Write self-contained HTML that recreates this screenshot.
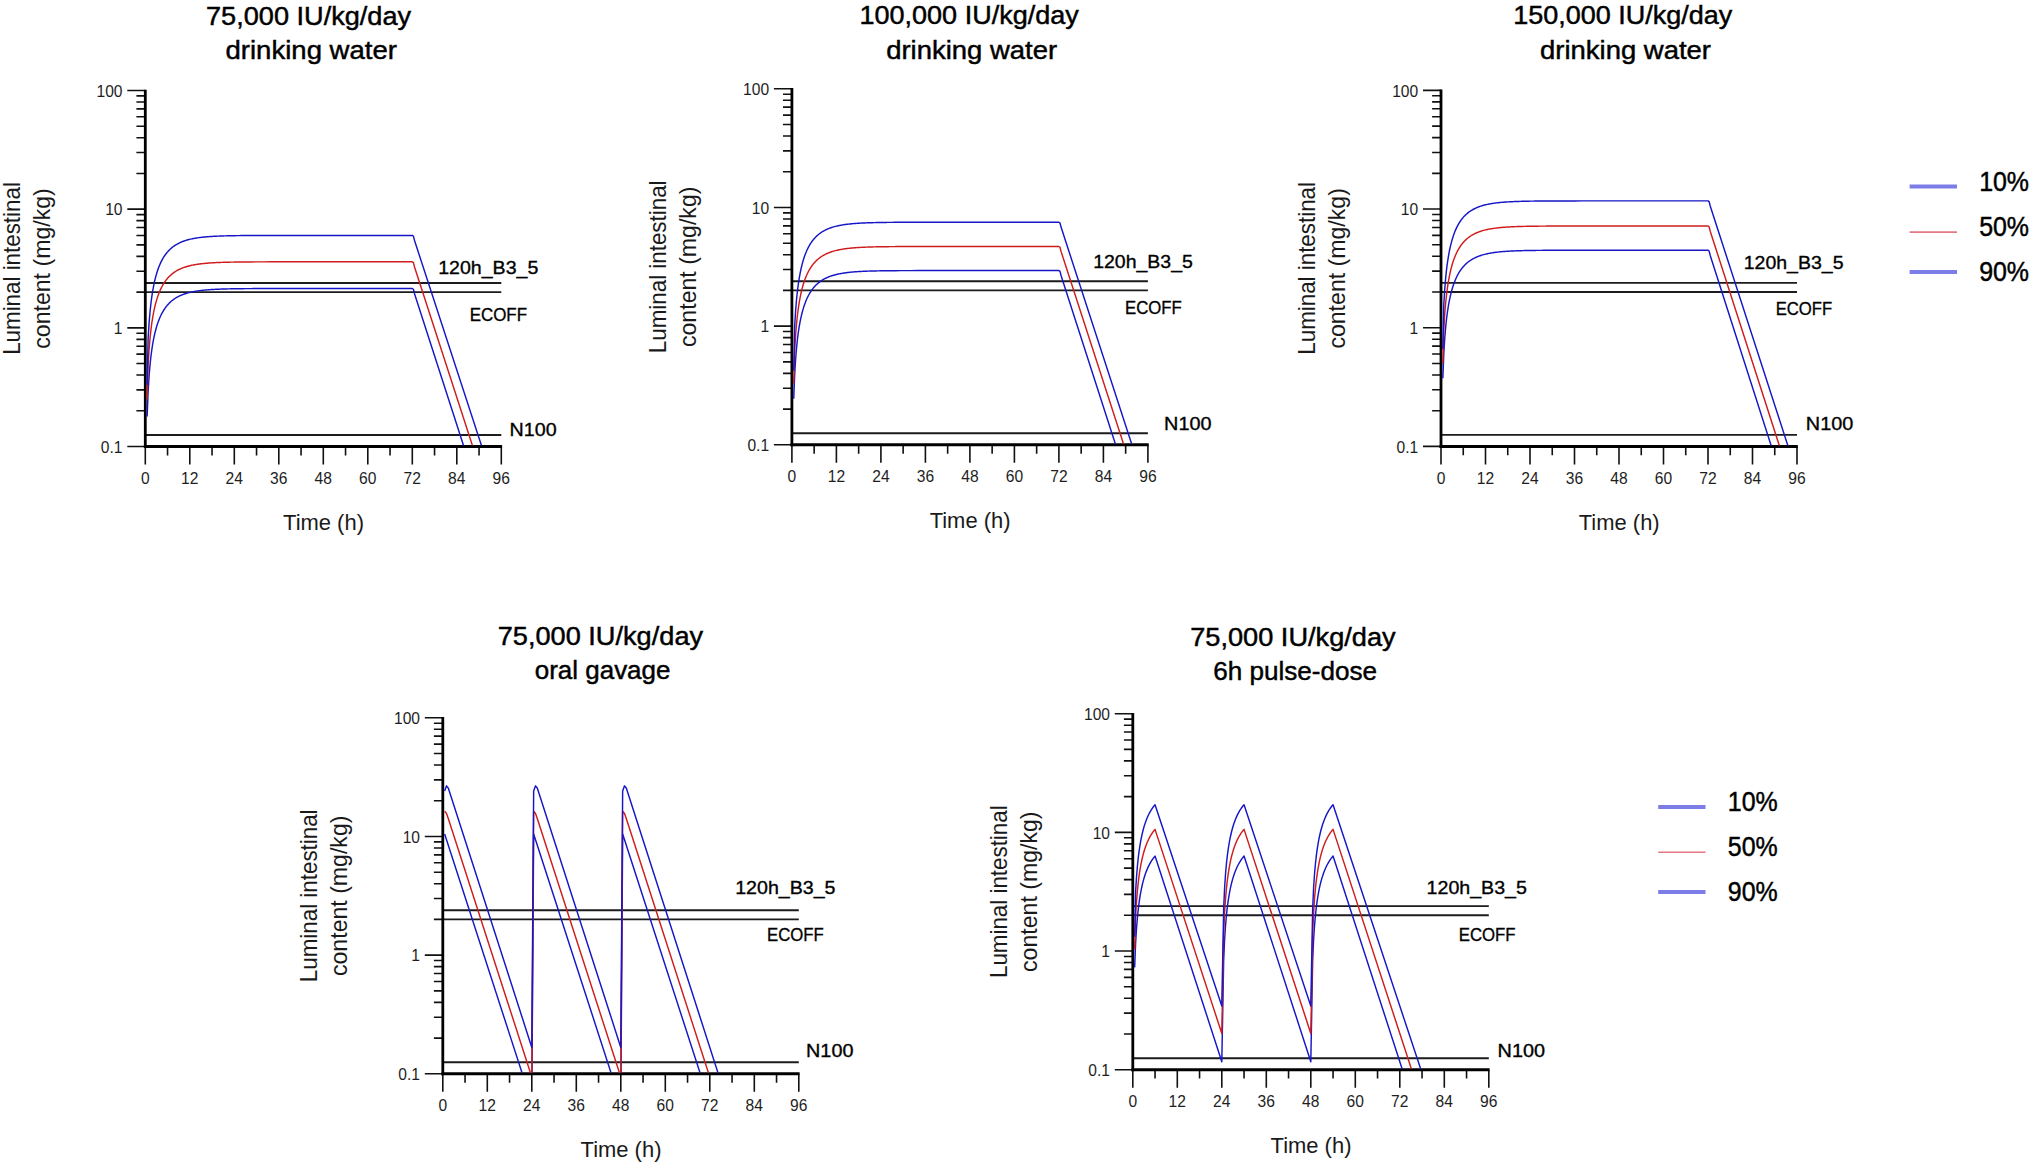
<!DOCTYPE html>
<html lang="en"><head><meta charset="utf-8"><title>Luminal intestinal content simulations</title>
<style>html,body{margin:0;padding:0;background:#fff}body{width:2034px;height:1167px;overflow:hidden}svg{display:block}text{white-space:pre}</style>
</head><body>
<svg width="2034" height="1167" viewBox="0 0 2034 1167" font-family='"Liberation Sans", Arial, Helvetica, sans-serif'>
<rect width="2034" height="1167" fill="#fff"/>
<defs><clipPath id="cp0"><rect x="145.3" y="85.49" width="370" height="360.01"/></clipPath><clipPath id="cp1"><rect x="791.9" y="83.79" width="370" height="360.01"/></clipPath><clipPath id="cp2"><rect x="1441" y="85.39" width="370" height="360.01"/></clipPath><clipPath id="cp3"><rect x="442.8" y="712.79" width="370" height="360.01"/></clipPath><clipPath id="cp4"><rect x="1132.8" y="708.69" width="370" height="360.01"/></clipPath></defs>
<g id="chart1">
<path d="M145.3 282.93H501.3M145.3 292.11H501.3M145.3 435H501.3" stroke="#1c1c1c" stroke-width="1.9" fill="none"/>
<path d="M127.3 446.5H145.3M136.4 410.78H145.3M136.4 389.88H145.3M136.4 375.05H145.3M136.4 363.55H145.3M136.4 354.16H145.3M136.4 346.21H145.3M136.4 339.33H145.3M136.4 333.26H145.3M127.3 327.83H145.3M136.4 292.11H145.3M136.4 271.21H145.3M136.4 256.38H145.3M136.4 244.88H145.3M136.4 235.49H145.3M136.4 227.54H145.3M136.4 220.66H145.3M136.4 214.59H145.3M127.3 209.16H145.3M136.4 173.44H145.3M136.4 152.54H145.3M136.4 137.71H145.3M136.4 126.21H145.3M136.4 116.82H145.3M136.4 108.87H145.3M136.4 101.99H145.3M136.4 95.92H145.3M127.3 90.49H145.3M145.3 446.5V464.5M167.55 446.5V455.4M189.8 446.5V464.5M212.05 446.5V455.4M234.3 446.5V464.5M256.55 446.5V455.4M278.8 446.5V464.5M301.05 446.5V455.4M323.3 446.5V464.5M345.55 446.5V455.4M367.8 446.5V464.5M390.05 446.5V455.4M412.3 446.5V464.5M434.55 446.5V455.4M456.8 446.5V464.5M479.05 446.5V455.4M501.3 446.5V464.5" stroke="#111" stroke-width="1.6" fill="none"/>
<path d="M145.3 89.69V448" stroke="#000" stroke-width="2.8" fill="none"/>
<path d="M143.9 446.5H502.1" stroke="#000" stroke-width="3" fill="none"/>
<path d="M147.15 416.58L148.08 392.49L149.01 377.09L149.94 365.82L150.86 357.03L151.79 349.89L152.72 343.95L153.64 338.88L154.57 334.51L155.5 330.69L156.43 327.31L157.35 324.31L158.28 321.62L159.21 319.2L160.13 317.01L161.06 315.01L161.99 313.19L162.91 311.53L163.84 310L164.77 308.6L165.7 307.3L166.62 306.1L167.55 304.99L168.48 303.97L169.4 303.01L170.33 302.12L171.26 301.3L172.19 300.53L173.11 299.81L174.04 299.14L174.97 298.51L175.89 297.93L176.82 297.38L177.75 296.86L178.68 296.38L179.6 295.93L180.53 295.5L181.46 295.1L182.38 294.73L183.31 294.38L184.24 294.04L185.16 293.73L186.09 293.44L187.02 293.16L187.95 292.9L188.87 292.66L189.8 292.43L190.73 292.21L191.65 292.01L192.58 291.81L193.51 291.63L194.44 291.46L195.36 291.3L196.29 291.14L197.22 291L198.14 290.86L199.07 290.73L200 290.61L200.93 290.5L201.85 290.39L202.78 290.28L203.71 290.19L204.63 290.1L205.56 290.01L206.49 289.93L207.41 289.85L208.34 289.78L209.27 289.71L210.2 289.64L211.12 289.58L212.05 289.52L212.98 289.47L213.9 289.42L214.83 289.37L215.76 289.32L216.69 289.28L217.61 289.23L218.54 289.19L219.47 289.16L220.39 289.12L221.32 289.09L222.25 289.06L223.18 289.03L224.1 289L225.03 288.97L225.96 288.95L226.88 288.92L227.81 288.9L228.74 288.88L229.66 288.86L230.59 288.84L231.52 288.82L232.45 288.8L233.37 288.79L234.3 288.77L235.23 288.76L236.15 288.74L237.08 288.73L238.01 288.72L238.94 288.71L239.86 288.7L240.79 288.68L241.72 288.67L242.64 288.67L243.57 288.66L244.5 288.65L245.43 288.64L246.35 288.63L247.28 288.63L248.21 288.62L249.13 288.61L250.06 288.61L250.99 288.6L251.91 288.6L252.84 288.59L253.77 288.59L254.7 288.58L255.62 288.58L256.55 288.57L263.97 288.55L271.38 288.53L278.8 288.52L286.22 288.51L293.63 288.51L301.05 288.5L308.47 288.5L315.88 288.5L323.3 288.5L330.72 288.5L338.13 288.5L345.55 288.5L352.97 288.5L360.38 288.5L367.8 288.5L375.22 288.5L382.63 288.5L390.05 288.5L397.47 288.5L404.88 288.5L412.3 288.5L413.41 289.28L414.52 293.67L467.55 457.99" stroke="#1616c8" stroke-width="1.45" fill="none" stroke-linejoin="round" clip-path="url(#cp0)"/>
<path d="M147.15 398.66L148.08 365.8L149.01 350.4L149.94 339.13L150.86 330.34L151.79 323.21L152.72 317.26L153.64 312.2L154.57 307.83L155.5 304L156.43 300.63L157.35 297.63L158.28 294.94L159.21 292.51L160.13 290.32L161.06 288.33L161.99 286.51L162.91 284.84L163.84 283.32L164.77 281.91L165.7 280.61L166.62 279.42L167.55 278.31L168.48 277.28L169.4 276.33L170.33 275.44L171.26 274.61L172.19 273.84L173.11 273.12L174.04 272.45L174.97 271.83L175.89 271.24L176.82 270.69L177.75 270.18L178.68 269.69L179.6 269.24L180.53 268.82L181.46 268.42L182.38 268.04L183.31 267.69L184.24 267.36L185.16 267.05L186.09 266.75L187.02 266.48L187.95 266.22L188.87 265.97L189.8 265.74L190.73 265.52L191.65 265.32L192.58 265.13L193.51 264.94L194.44 264.77L195.36 264.61L196.29 264.46L197.22 264.31L198.14 264.17L199.07 264.05L200 263.92L200.93 263.81L201.85 263.7L202.78 263.6L203.71 263.5L204.63 263.41L205.56 263.32L206.49 263.24L207.41 263.16L208.34 263.09L209.27 263.02L210.2 262.96L211.12 262.9L212.05 262.84L212.98 262.78L213.9 262.73L214.83 262.68L215.76 262.63L216.69 262.59L217.61 262.55L218.54 262.51L219.47 262.47L220.39 262.44L221.32 262.4L222.25 262.37L223.18 262.34L224.1 262.31L225.03 262.29L225.96 262.26L226.88 262.24L227.81 262.21L228.74 262.19L229.66 262.17L230.59 262.15L231.52 262.13L232.45 262.12L233.37 262.1L234.3 262.09L235.23 262.07L236.15 262.06L237.08 262.04L238.01 262.03L238.94 262.02L239.86 262.01L240.79 262L241.72 261.99L242.64 261.98L243.57 261.97L244.5 261.96L245.43 261.95L246.35 261.95L247.28 261.94L248.21 261.93L249.13 261.93L250.06 261.92L250.99 261.91L251.91 261.91L252.84 261.9L253.77 261.9L254.7 261.89L255.62 261.89L256.55 261.89L263.97 261.86L271.38 261.84L278.8 261.83L286.22 261.83L293.63 261.82L301.05 261.82L308.47 261.82L315.88 261.82L323.3 261.81L330.72 261.81L338.13 261.81L345.55 261.81L352.97 261.81L360.38 261.81L367.8 261.81L375.22 261.81L382.63 261.81L390.05 261.81L397.47 261.81L404.88 261.81L412.3 261.81L413.41 262.59L414.52 266.96L476.45 457.94" stroke="#d01c1c" stroke-width="1.45" fill="none" stroke-linejoin="round" clip-path="url(#cp0)"/>
<path d="M147.15 384.97L148.08 339.39L149.01 323.99L149.94 312.72L150.86 303.93L151.79 296.8L152.72 290.85L153.64 285.79L154.57 281.41L155.5 277.59L156.43 274.22L157.35 271.21L158.28 268.52L159.21 266.1L160.13 263.91L161.06 261.91L161.99 260.09L162.91 258.43L163.84 256.9L164.77 255.5L165.7 254.2L166.62 253L167.55 251.9L168.48 250.87L169.4 249.91L170.33 249.03L171.26 248.2L172.19 247.43L173.11 246.71L174.04 246.04L174.97 245.41L175.89 244.83L176.82 244.28L177.75 243.76L178.68 243.28L179.6 242.83L180.53 242.4L181.46 242L182.38 241.63L183.31 241.28L184.24 240.95L185.16 240.63L186.09 240.34L187.02 240.06L187.95 239.8L188.87 239.56L189.8 239.33L190.73 239.11L191.65 238.91L192.58 238.71L193.51 238.53L194.44 238.36L195.36 238.2L196.29 238.04L197.22 237.9L198.14 237.76L199.07 237.63L200 237.51L200.93 237.4L201.85 237.29L202.78 237.19L203.71 237.09L204.63 237L205.56 236.91L206.49 236.83L207.41 236.75L208.34 236.68L209.27 236.61L210.2 236.54L211.12 236.48L212.05 236.42L212.98 236.37L213.9 236.32L214.83 236.27L215.76 236.22L216.69 236.18L217.61 236.14L218.54 236.1L219.47 236.06L220.39 236.02L221.32 235.99L222.25 235.96L223.18 235.93L224.1 235.9L225.03 235.87L225.96 235.85L226.88 235.82L227.81 235.8L228.74 235.78L229.66 235.76L230.59 235.74L231.52 235.72L232.45 235.7L233.37 235.69L234.3 235.67L235.23 235.66L236.15 235.64L237.08 235.63L238.01 235.62L238.94 235.61L239.86 235.6L240.79 235.59L241.72 235.58L242.64 235.57L243.57 235.56L244.5 235.55L245.43 235.54L246.35 235.53L247.28 235.53L248.21 235.52L249.13 235.51L250.06 235.51L250.99 235.5L251.91 235.5L252.84 235.49L253.77 235.49L254.7 235.48L255.62 235.48L256.55 235.47L263.97 235.45L271.38 235.43L278.8 235.42L286.22 235.41L293.63 235.41L301.05 235.41L308.47 235.4L315.88 235.4L323.3 235.4L330.72 235.4L338.13 235.4L345.55 235.4L352.97 235.4L360.38 235.4L367.8 235.4L375.22 235.4L382.63 235.4L390.05 235.4L397.47 235.4L404.88 235.4L412.3 235.4L413.41 236.18L414.52 240.51L485.5 457.86" stroke="#1616c8" stroke-width="1.45" fill="none" stroke-linejoin="round" clip-path="url(#cp0)"/>
<g fill="#1e1e1e"><text x="122.5" y="96.69" font-size="15.6" text-anchor="end">100</text><text x="122.5" y="215.36" font-size="15.6" text-anchor="end">10</text><text x="122.5" y="334.03" font-size="15.6" text-anchor="end">1</text><text x="122.5" y="452.7" font-size="15.6" text-anchor="end">0.1</text><text x="145.3" y="484.1" font-size="15.6" text-anchor="middle">0</text><text x="189.8" y="484.1" font-size="15.6" text-anchor="middle">12</text><text x="234.3" y="484.1" font-size="15.6" text-anchor="middle">24</text><text x="278.8" y="484.1" font-size="15.6" text-anchor="middle">36</text><text x="323.3" y="484.1" font-size="15.6" text-anchor="middle">48</text><text x="367.8" y="484.1" font-size="15.6" text-anchor="middle">60</text><text x="412.3" y="484.1" font-size="15.6" text-anchor="middle">72</text><text x="456.8" y="484.1" font-size="15.6" text-anchor="middle">84</text><text x="501.3" y="484.1" font-size="15.6" text-anchor="middle">96</text></g>
<text x="323.5" y="529.8" font-size="22.4" text-anchor="middle" textLength="80.9" lengthAdjust="spacingAndGlyphs" fill="#1a1a1a">Time (h)</text>
<g fill="#1a1a1a" transform="translate(19.7 268.5) rotate(-90)"><text x="0" y="0" font-size="23.4" text-anchor="middle" textLength="172.69" lengthAdjust="spacingAndGlyphs">Luminal intestinal</text><text x="0" y="30" font-size="23.4" text-anchor="middle" textLength="160.49" lengthAdjust="spacingAndGlyphs">content (mg/kg)</text></g>
<g fill="#000" stroke="#000" stroke-width="0.45"><text x="206" y="24.6" font-size="25.8" textLength="205.09" lengthAdjust="spacingAndGlyphs">75,000 IU/kg/day</text><text x="225.5" y="58.6" font-size="25.8" textLength="171.49" lengthAdjust="spacingAndGlyphs">drinking water</text></g>
<g fill="#000" stroke="#000" stroke-width="0.35"><text x="438.19" y="273.9" font-size="19" textLength="100.11" lengthAdjust="spacingAndGlyphs">120h_B3_5</text><text x="469.69" y="320.5" font-size="19" textLength="57.32" lengthAdjust="spacingAndGlyphs">ECOFF</text><text x="509.59" y="436.2" font-size="19" textLength="47.01" lengthAdjust="spacingAndGlyphs">N100</text></g>
</g>
<g id="chart2">
<path d="M791.9 281.23H1147.9M791.9 290.41H1147.9M791.9 433.3H1147.9" stroke="#1c1c1c" stroke-width="1.9" fill="none"/>
<path d="M773.9 444.8H791.9M783 409.08H791.9M783 388.18H791.9M783 373.35H791.9M783 361.85H791.9M783 352.46H791.9M783 344.51H791.9M783 337.63H791.9M783 331.56H791.9M773.9 326.13H791.9M783 290.41H791.9M783 269.51H791.9M783 254.68H791.9M783 243.18H791.9M783 233.79H791.9M783 225.84H791.9M783 218.96H791.9M783 212.89H791.9M773.9 207.46H791.9M783 171.74H791.9M783 150.84H791.9M783 136.01H791.9M783 124.51H791.9M783 115.12H791.9M783 107.17H791.9M783 100.29H791.9M783 94.22H791.9M773.9 88.79H791.9M791.9 444.8V462.8M814.15 444.8V453.7M836.4 444.8V462.8M858.65 444.8V453.7M880.9 444.8V462.8M903.15 444.8V453.7M925.4 444.8V462.8M947.65 444.8V453.7M969.9 444.8V462.8M992.15 444.8V453.7M1014.4 444.8V462.8M1036.65 444.8V453.7M1058.9 444.8V462.8M1081.15 444.8V453.7M1103.4 444.8V462.8M1125.65 444.8V453.7M1147.9 444.8V462.8" stroke="#111" stroke-width="1.6" fill="none"/>
<path d="M791.9 87.99V446.3" stroke="#000" stroke-width="2.8" fill="none"/>
<path d="M790.5 444.8H1148.7" stroke="#000" stroke-width="3" fill="none"/>
<path d="M793.75 398.62L794.68 374.54L795.61 359.14L796.54 347.87L797.46 339.08L798.39 331.95L799.32 326L800.24 320.94L801.17 316.56L802.1 312.74L803.02 309.37L803.95 306.36L804.88 303.67L805.81 301.25L806.73 299.06L807.66 297.06L808.59 295.24L809.51 293.58L810.44 292.05L811.37 290.65L812.3 289.35L813.22 288.15L814.15 287.05L815.08 286.02L816 285.06L816.93 284.18L817.86 283.35L818.79 282.58L819.71 281.86L820.64 281.19L821.57 280.56L822.49 279.98L823.42 279.43L824.35 278.91L825.27 278.43L826.2 277.98L827.13 277.55L828.06 277.15L828.98 276.78L829.91 276.43L830.84 276.1L831.76 275.78L832.69 275.49L833.62 275.21L834.55 274.95L835.47 274.71L836.4 274.48L837.33 274.26L838.25 274.06L839.18 273.86L840.11 273.68L841.04 273.51L841.96 273.35L842.89 273.19L843.82 273.05L844.74 272.91L845.67 272.78L846.6 272.66L847.52 272.55L848.45 272.44L849.38 272.34L850.31 272.24L851.23 272.15L852.16 272.06L853.09 271.98L854.01 271.9L854.94 271.83L855.87 271.76L856.8 271.69L857.72 271.63L858.65 271.57L859.58 271.52L860.5 271.47L861.43 271.42L862.36 271.37L863.29 271.33L864.21 271.29L865.14 271.25L866.07 271.21L866.99 271.17L867.92 271.14L868.85 271.11L869.77 271.08L870.7 271.05L871.63 271.02L872.56 271L873.48 270.97L874.41 270.95L875.34 270.93L876.26 270.91L877.19 270.89L878.12 270.87L879.05 270.86L879.97 270.84L880.9 270.82L881.83 270.81L882.75 270.8L883.68 270.78L884.61 270.77L885.54 270.76L886.46 270.75L887.39 270.74L888.32 270.73L889.24 270.72L890.17 270.71L891.1 270.7L892.02 270.69L892.95 270.68L893.88 270.68L894.81 270.67L895.73 270.66L896.66 270.66L897.59 270.65L898.51 270.65L899.44 270.64L900.37 270.64L901.3 270.63L902.22 270.63L903.15 270.62L910.57 270.6L917.98 270.58L925.4 270.57L932.82 270.56L940.23 270.56L947.65 270.56L955.07 270.55L962.48 270.55L969.9 270.55L977.32 270.55L984.73 270.55L992.15 270.55L999.57 270.55L1006.98 270.55L1014.4 270.55L1021.82 270.55L1029.23 270.55L1036.65 270.55L1044.07 270.55L1051.48 270.55L1058.9 270.55L1060.01 271.33L1061.12 275.73L1119.35 456.3" stroke="#1616c8" stroke-width="1.45" fill="none" stroke-linejoin="round" clip-path="url(#cp1)"/>
<path d="M793.75 383.27L794.68 350.47L795.61 335.07L796.54 323.8L797.46 315.01L798.39 307.88L799.32 301.93L800.24 296.87L801.17 292.49L802.1 288.67L803.02 285.3L803.95 282.29L804.88 279.6L805.81 277.18L806.73 274.99L807.66 272.99L808.59 271.18L809.51 269.51L810.44 267.98L811.37 266.58L812.3 265.28L813.22 264.08L814.15 262.98L815.08 261.95L816 260.99L816.93 260.11L817.86 259.28L818.79 258.51L819.71 257.79L820.64 257.12L821.57 256.49L822.49 255.91L823.42 255.36L824.35 254.84L825.27 254.36L826.2 253.91L827.13 253.48L828.06 253.08L828.98 252.71L829.91 252.36L830.84 252.03L831.76 251.71L832.69 251.42L833.62 251.15L834.55 250.89L835.47 250.64L836.4 250.41L837.33 250.19L838.25 249.99L839.18 249.79L840.11 249.61L841.04 249.44L841.96 249.28L842.89 249.12L843.82 248.98L844.74 248.84L845.67 248.71L846.6 248.59L847.52 248.48L848.45 248.37L849.38 248.27L850.31 248.17L851.23 248.08L852.16 247.99L853.09 247.91L854.01 247.83L854.94 247.76L855.87 247.69L856.8 247.63L857.72 247.56L858.65 247.51L859.58 247.45L860.5 247.4L861.43 247.35L862.36 247.3L863.29 247.26L864.21 247.22L865.14 247.18L866.07 247.14L866.99 247.1L867.92 247.07L868.85 247.04L869.77 247.01L870.7 246.98L871.63 246.95L872.56 246.93L873.48 246.9L874.41 246.88L875.34 246.86L876.26 246.84L877.19 246.82L878.12 246.8L879.05 246.79L879.97 246.77L880.9 246.75L881.83 246.74L882.75 246.73L883.68 246.71L884.61 246.7L885.54 246.69L886.46 246.68L887.39 246.67L888.32 246.66L889.24 246.65L890.17 246.64L891.1 246.63L892.02 246.62L892.95 246.62L893.88 246.61L894.81 246.6L895.73 246.59L896.66 246.59L897.59 246.58L898.51 246.58L899.44 246.57L900.37 246.57L901.3 246.56L902.22 246.56L903.15 246.55L910.57 246.53L917.98 246.51L925.4 246.5L932.82 246.49L940.23 246.49L947.65 246.49L955.07 246.49L962.48 246.48L969.9 246.48L977.32 246.48L984.73 246.48L992.15 246.48L999.57 246.48L1006.98 246.48L1014.4 246.48L1021.82 246.48L1029.23 246.48L1036.65 246.48L1044.07 246.48L1051.48 246.48L1058.9 246.48L1060.01 247.26L1061.12 251.63L1127.5 456.23" stroke="#d01c1c" stroke-width="1.45" fill="none" stroke-linejoin="round" clip-path="url(#cp1)"/>
<path d="M793.75 370.84L794.68 326.2L795.61 310.81L796.54 299.53L797.46 290.74L798.39 283.61L799.32 277.66L800.24 272.6L801.17 268.23L802.1 264.41L803.02 261.03L803.95 258.03L804.88 255.34L805.81 252.92L806.73 250.72L807.66 248.73L808.59 246.91L809.51 245.25L810.44 243.72L811.37 242.31L812.3 241.02L813.22 239.82L814.15 238.71L815.08 237.68L816 236.73L816.93 235.84L817.86 235.02L818.79 234.25L819.71 233.53L820.64 232.86L821.57 232.23L822.49 231.64L823.42 231.09L824.35 230.58L825.27 230.1L826.2 229.64L827.13 229.22L828.06 228.82L828.98 228.45L829.91 228.09L830.84 227.76L831.76 227.45L832.69 227.16L833.62 226.88L834.55 226.62L835.47 226.38L836.4 226.15L837.33 225.93L838.25 225.72L839.18 225.53L840.11 225.35L841.04 225.18L841.96 225.01L842.89 224.86L843.82 224.72L844.74 224.58L845.67 224.45L846.6 224.33L847.52 224.21L848.45 224.11L849.38 224L850.31 223.91L851.23 223.81L852.16 223.73L853.09 223.65L854.01 223.57L854.94 223.5L855.87 223.43L856.8 223.36L857.72 223.3L858.65 223.24L859.58 223.19L860.5 223.13L861.43 223.08L862.36 223.04L863.29 222.99L864.21 222.95L865.14 222.91L866.07 222.88L866.99 222.84L867.92 222.81L868.85 222.77L869.77 222.75L870.7 222.72L871.63 222.69L872.56 222.66L873.48 222.64L874.41 222.62L875.34 222.6L876.26 222.58L877.19 222.56L878.12 222.54L879.05 222.52L879.97 222.51L880.9 222.49L881.83 222.48L882.75 222.46L883.68 222.45L884.61 222.44L885.54 222.42L886.46 222.41L887.39 222.4L888.32 222.39L889.24 222.38L890.17 222.37L891.1 222.37L892.02 222.36L892.95 222.35L893.88 222.34L894.81 222.34L895.73 222.33L896.66 222.32L897.59 222.32L898.51 222.31L899.44 222.31L900.37 222.3L901.3 222.3L902.22 222.29L903.15 222.29L910.57 222.26L917.98 222.25L925.4 222.24L932.82 222.23L940.23 222.23L947.65 222.22L955.07 222.22L962.48 222.22L969.9 222.22L977.32 222.22L984.73 222.22L992.15 222.22L999.57 222.22L1006.98 222.22L1014.4 222.22L1021.82 222.22L1029.23 222.22L1036.65 222.22L1044.07 222.22L1051.48 222.22L1058.9 222.22L1060.01 223L1061.12 227.34L1135.66 456.19" stroke="#1616c8" stroke-width="1.45" fill="none" stroke-linejoin="round" clip-path="url(#cp1)"/>
<g fill="#1e1e1e"><text x="769.1" y="94.99" font-size="15.6" text-anchor="end">100</text><text x="769.1" y="213.66" font-size="15.6" text-anchor="end">10</text><text x="769.1" y="332.33" font-size="15.6" text-anchor="end">1</text><text x="769.1" y="451" font-size="15.6" text-anchor="end">0.1</text><text x="791.9" y="482.4" font-size="15.6" text-anchor="middle">0</text><text x="836.4" y="482.4" font-size="15.6" text-anchor="middle">12</text><text x="880.9" y="482.4" font-size="15.6" text-anchor="middle">24</text><text x="925.4" y="482.4" font-size="15.6" text-anchor="middle">36</text><text x="969.9" y="482.4" font-size="15.6" text-anchor="middle">48</text><text x="1014.4" y="482.4" font-size="15.6" text-anchor="middle">60</text><text x="1058.9" y="482.4" font-size="15.6" text-anchor="middle">72</text><text x="1103.4" y="482.4" font-size="15.6" text-anchor="middle">84</text><text x="1147.9" y="482.4" font-size="15.6" text-anchor="middle">96</text></g>
<text x="970.1" y="528.1" font-size="22.4" text-anchor="middle" textLength="80.9" lengthAdjust="spacingAndGlyphs" fill="#1a1a1a">Time (h)</text>
<g fill="#1a1a1a" transform="translate(666.3 266.8) rotate(-90)"><text x="0" y="0" font-size="23.4" text-anchor="middle" textLength="172.69" lengthAdjust="spacingAndGlyphs">Luminal intestinal</text><text x="0" y="30" font-size="23.4" text-anchor="middle" textLength="160.49" lengthAdjust="spacingAndGlyphs">content (mg/kg)</text></g>
<g fill="#000" stroke="#000" stroke-width="0.45"><text x="859.4" y="24.4" font-size="25.8" textLength="219.49" lengthAdjust="spacingAndGlyphs">100,000 IU/kg/day</text><text x="886.2" y="59" font-size="25.8" textLength="170.89" lengthAdjust="spacingAndGlyphs">drinking water</text></g>
<g fill="#000" stroke="#000" stroke-width="0.35"><text x="1093.19" y="267.8" font-size="19" textLength="99.61" lengthAdjust="spacingAndGlyphs">120h_B3_5</text><text x="1125.09" y="314.4" font-size="19" textLength="56.71" lengthAdjust="spacingAndGlyphs">ECOFF</text><text x="1164.09" y="430.4" font-size="19" textLength="47.41" lengthAdjust="spacingAndGlyphs">N100</text></g>
</g>
<g id="chart3">
<path d="M1441 282.83H1797M1441 292.01H1797M1441 434.9H1797" stroke="#1c1c1c" stroke-width="1.9" fill="none"/>
<path d="M1423 446.4H1441M1432.1 410.68H1441M1432.1 389.78H1441M1432.1 374.95H1441M1432.1 363.45H1441M1432.1 354.06H1441M1432.1 346.11H1441M1432.1 339.23H1441M1432.1 333.16H1441M1423 327.73H1441M1432.1 292.01H1441M1432.1 271.11H1441M1432.1 256.28H1441M1432.1 244.78H1441M1432.1 235.39H1441M1432.1 227.44H1441M1432.1 220.56H1441M1432.1 214.49H1441M1423 209.06H1441M1432.1 173.34H1441M1432.1 152.44H1441M1432.1 137.61H1441M1432.1 126.11H1441M1432.1 116.72H1441M1432.1 108.77H1441M1432.1 101.89H1441M1432.1 95.82H1441M1423 90.39H1441M1441 446.4V464.4M1463.25 446.4V455.3M1485.5 446.4V464.4M1507.75 446.4V455.3M1530 446.4V464.4M1552.25 446.4V455.3M1574.5 446.4V464.4M1596.75 446.4V455.3M1619 446.4V464.4M1641.25 446.4V455.3M1663.5 446.4V464.4M1685.75 446.4V455.3M1708 446.4V464.4M1730.25 446.4V455.3M1752.5 446.4V464.4M1774.75 446.4V455.3M1797 446.4V464.4" stroke="#111" stroke-width="1.6" fill="none"/>
<path d="M1441 89.59V447.9" stroke="#000" stroke-width="2.8" fill="none"/>
<path d="M1439.6 446.4H1797.8" stroke="#000" stroke-width="3" fill="none"/>
<path d="M1442.85 378.28L1443.78 354.2L1444.71 338.8L1445.64 327.53L1446.56 318.74L1447.49 311.61L1448.42 305.66L1449.34 300.6L1450.27 296.23L1451.2 292.4L1452.12 289.03L1453.05 286.03L1453.98 283.34L1454.91 280.91L1455.83 278.72L1456.76 276.73L1457.69 274.91L1458.61 273.24L1459.54 271.71L1460.47 270.31L1461.4 269.01L1462.32 267.82L1463.25 266.71L1464.18 265.68L1465.1 264.73L1466.03 263.84L1466.96 263.01L1467.89 262.24L1468.81 261.52L1469.74 260.85L1470.67 260.23L1471.59 259.64L1472.52 259.09L1473.45 258.57L1474.38 258.09L1475.3 257.64L1476.23 257.22L1477.16 256.82L1478.08 256.44L1479.01 256.09L1479.94 255.76L1480.86 255.45L1481.79 255.15L1482.72 254.88L1483.65 254.62L1484.57 254.37L1485.5 254.14L1486.43 253.92L1487.35 253.72L1488.28 253.53L1489.21 253.34L1490.14 253.17L1491.06 253.01L1491.99 252.86L1492.92 252.71L1493.84 252.57L1494.77 252.45L1495.7 252.32L1496.62 252.21L1497.55 252.1L1498.48 252L1499.41 251.9L1500.33 251.81L1501.26 251.72L1502.19 251.64L1503.11 251.56L1504.04 251.49L1504.97 251.42L1505.9 251.36L1506.82 251.3L1507.75 251.24L1508.68 251.18L1509.6 251.13L1510.53 251.08L1511.46 251.03L1512.39 250.99L1513.31 250.95L1514.24 250.91L1515.17 250.87L1516.09 250.84L1517.02 250.8L1517.95 250.77L1518.88 250.74L1519.8 250.71L1520.73 250.69L1521.66 250.66L1522.58 250.64L1523.51 250.61L1524.44 250.59L1525.36 250.57L1526.29 250.55L1527.22 250.53L1528.15 250.52L1529.07 250.5L1530 250.49L1530.93 250.47L1531.85 250.46L1532.78 250.44L1533.71 250.43L1534.64 250.42L1535.56 250.41L1536.49 250.4L1537.42 250.39L1538.34 250.38L1539.27 250.37L1540.2 250.36L1541.12 250.35L1542.05 250.35L1542.98 250.34L1543.91 250.33L1544.83 250.33L1545.76 250.32L1546.69 250.31L1547.61 250.31L1548.54 250.3L1549.47 250.3L1550.4 250.29L1551.32 250.29L1552.25 250.29L1559.67 250.26L1567.08 250.24L1574.5 250.23L1581.92 250.23L1589.33 250.22L1596.75 250.22L1604.17 250.22L1611.58 250.22L1619 250.21L1626.42 250.21L1633.83 250.21L1641.25 250.21L1648.67 250.21L1656.08 250.21L1663.5 250.21L1670.92 250.21L1678.33 250.21L1685.75 250.21L1693.17 250.21L1700.58 250.21L1708 250.21L1709.11 250.99L1710.22 255.42L1775.12 457.97" stroke="#1616c8" stroke-width="1.45" fill="none" stroke-linejoin="round" clip-path="url(#cp2)"/>
<path d="M1442.85 363.45L1443.78 329.98L1444.71 314.58L1445.64 303.31L1446.56 294.52L1447.49 287.38L1448.42 281.44L1449.34 276.38L1450.27 272L1451.2 268.18L1452.12 264.81L1453.05 261.8L1453.98 259.11L1454.91 256.69L1455.83 254.5L1456.76 252.5L1457.69 250.68L1458.61 249.02L1459.54 247.49L1460.47 246.09L1461.4 244.79L1462.32 243.59L1463.25 242.48L1464.18 241.46L1465.1 240.5L1466.03 239.62L1466.96 238.79L1467.89 238.02L1468.81 237.3L1469.74 236.63L1470.67 236L1471.59 235.42L1472.52 234.87L1473.45 234.35L1474.38 233.87L1475.3 233.42L1476.23 232.99L1477.16 232.59L1478.08 232.22L1479.01 231.87L1479.94 231.53L1480.86 231.22L1481.79 230.93L1482.72 230.65L1483.65 230.39L1484.57 230.15L1485.5 229.92L1486.43 229.7L1487.35 229.5L1488.28 229.3L1489.21 229.12L1490.14 228.95L1491.06 228.79L1491.99 228.63L1492.92 228.49L1493.84 228.35L1494.77 228.22L1495.7 228.1L1496.62 227.99L1497.55 227.88L1498.48 227.78L1499.41 227.68L1500.33 227.59L1501.26 227.5L1502.19 227.42L1503.11 227.34L1504.04 227.27L1504.97 227.2L1505.9 227.13L1506.82 227.07L1507.75 227.01L1508.68 226.96L1509.6 226.91L1510.53 226.86L1511.46 226.81L1512.39 226.77L1513.31 226.72L1514.24 226.69L1515.17 226.65L1516.09 226.61L1517.02 226.58L1517.95 226.55L1518.88 226.52L1519.8 226.49L1520.73 226.46L1521.66 226.44L1522.58 226.41L1523.51 226.39L1524.44 226.37L1525.36 226.35L1526.29 226.33L1527.22 226.31L1528.15 226.29L1529.07 226.28L1530 226.26L1530.93 226.25L1531.85 226.23L1532.78 226.22L1533.71 226.21L1534.64 226.2L1535.56 226.19L1536.49 226.18L1537.42 226.17L1538.34 226.16L1539.27 226.15L1540.2 226.14L1541.12 226.13L1542.05 226.12L1542.98 226.12L1543.91 226.11L1544.83 226.1L1545.76 226.1L1546.69 226.09L1547.61 226.09L1548.54 226.08L1549.47 226.08L1550.4 226.07L1551.32 226.07L1552.25 226.06L1559.67 226.04L1567.08 226.02L1574.5 226.01L1581.92 226L1589.33 226L1596.75 226L1604.17 225.99L1611.58 225.99L1619 225.99L1626.42 225.99L1633.83 225.99L1641.25 225.99L1648.67 225.99L1656.08 225.99L1663.5 225.99L1670.92 225.99L1678.33 225.99L1685.75 225.99L1693.17 225.99L1700.58 225.99L1708 225.99L1709.11 226.77L1710.22 231.17L1783.28 457.91" stroke="#d01c1c" stroke-width="1.45" fill="none" stroke-linejoin="round" clip-path="url(#cp2)"/>
<path d="M1442.85 349.14L1443.78 304.87L1444.71 289.47L1445.64 278.2L1446.56 269.41L1447.49 262.27L1448.42 256.33L1449.34 251.27L1450.27 246.89L1451.2 243.07L1452.12 239.7L1453.05 236.69L1453.98 234L1454.91 231.58L1455.83 229.39L1456.76 227.39L1457.69 225.57L1458.61 223.91L1459.54 222.38L1460.47 220.98L1461.4 219.68L1462.32 218.48L1463.25 217.37L1464.18 216.35L1465.1 215.39L1466.03 214.51L1466.96 213.68L1467.89 212.91L1468.81 212.19L1469.74 211.52L1470.67 210.89L1471.59 210.31L1472.52 209.76L1473.45 209.24L1474.38 208.76L1475.3 208.31L1476.23 207.88L1477.16 207.48L1478.08 207.11L1479.01 206.76L1479.94 206.42L1480.86 206.11L1481.79 205.82L1482.72 205.54L1483.65 205.28L1484.57 205.04L1485.5 204.81L1486.43 204.59L1487.35 204.39L1488.28 204.19L1489.21 204.01L1490.14 203.84L1491.06 203.68L1491.99 203.52L1492.92 203.38L1493.84 203.24L1494.77 203.11L1495.7 202.99L1496.62 202.88L1497.55 202.77L1498.48 202.67L1499.41 202.57L1500.33 202.48L1501.26 202.39L1502.19 202.31L1503.11 202.23L1504.04 202.16L1504.97 202.09L1505.9 202.02L1506.82 201.96L1507.75 201.9L1508.68 201.85L1509.6 201.8L1510.53 201.75L1511.46 201.7L1512.39 201.66L1513.31 201.61L1514.24 201.58L1515.17 201.54L1516.09 201.5L1517.02 201.47L1517.95 201.44L1518.88 201.41L1519.8 201.38L1520.73 201.35L1521.66 201.33L1522.58 201.3L1523.51 201.28L1524.44 201.26L1525.36 201.24L1526.29 201.22L1527.22 201.2L1528.15 201.18L1529.07 201.17L1530 201.15L1530.93 201.14L1531.85 201.12L1532.78 201.11L1533.71 201.1L1534.64 201.09L1535.56 201.08L1536.49 201.07L1537.42 201.06L1538.34 201.05L1539.27 201.04L1540.2 201.03L1541.12 201.02L1542.05 201.01L1542.98 201.01L1543.91 201L1544.83 200.99L1545.76 200.99L1546.69 200.98L1547.61 200.98L1548.54 200.97L1549.47 200.97L1550.4 200.96L1551.32 200.96L1552.25 200.95L1559.67 200.93L1567.08 200.91L1574.5 200.9L1581.92 200.89L1589.33 200.89L1596.75 200.89L1604.17 200.88L1611.58 200.88L1619 200.88L1626.42 200.88L1633.83 200.88L1641.25 200.88L1648.67 200.88L1656.08 200.88L1663.5 200.88L1670.92 200.88L1678.33 200.88L1685.75 200.88L1693.17 200.88L1700.58 200.88L1708 200.88L1709.11 201.66L1710.22 206.03L1791.81 457.85" stroke="#1616c8" stroke-width="1.45" fill="none" stroke-linejoin="round" clip-path="url(#cp2)"/>
<g fill="#1e1e1e"><text x="1418.2" y="96.59" font-size="15.6" text-anchor="end">100</text><text x="1418.2" y="215.26" font-size="15.6" text-anchor="end">10</text><text x="1418.2" y="333.93" font-size="15.6" text-anchor="end">1</text><text x="1418.2" y="452.6" font-size="15.6" text-anchor="end">0.1</text><text x="1441" y="484" font-size="15.6" text-anchor="middle">0</text><text x="1485.5" y="484" font-size="15.6" text-anchor="middle">12</text><text x="1530" y="484" font-size="15.6" text-anchor="middle">24</text><text x="1574.5" y="484" font-size="15.6" text-anchor="middle">36</text><text x="1619" y="484" font-size="15.6" text-anchor="middle">48</text><text x="1663.5" y="484" font-size="15.6" text-anchor="middle">60</text><text x="1708" y="484" font-size="15.6" text-anchor="middle">72</text><text x="1752.5" y="484" font-size="15.6" text-anchor="middle">84</text><text x="1797" y="484" font-size="15.6" text-anchor="middle">96</text></g>
<text x="1619.2" y="529.7" font-size="22.4" text-anchor="middle" textLength="80.9" lengthAdjust="spacingAndGlyphs" fill="#1a1a1a">Time (h)</text>
<g fill="#1a1a1a" transform="translate(1315.4 268.39) rotate(-90)"><text x="0" y="0" font-size="23.4" text-anchor="middle" textLength="172.69" lengthAdjust="spacingAndGlyphs">Luminal intestinal</text><text x="0" y="30" font-size="23.4" text-anchor="middle" textLength="160.49" lengthAdjust="spacingAndGlyphs">content (mg/kg)</text></g>
<g fill="#000" stroke="#000" stroke-width="0.45"><text x="1513.2" y="24.4" font-size="25.8" textLength="219.19" lengthAdjust="spacingAndGlyphs">150,000 IU/kg/day</text><text x="1540" y="59" font-size="25.8" textLength="170.99" lengthAdjust="spacingAndGlyphs">drinking water</text></g>
<g fill="#000" stroke="#000" stroke-width="0.35"><text x="1743.69" y="268.8" font-size="19" textLength="99.82" lengthAdjust="spacingAndGlyphs">120h_B3_5</text><text x="1775.69" y="315.4" font-size="19" textLength="56.52" lengthAdjust="spacingAndGlyphs">ECOFF</text><text x="1805.89" y="430.4" font-size="19" textLength="47.41" lengthAdjust="spacingAndGlyphs">N100</text></g>
</g>
<g id="chart4">
<path d="M442.8 910.23H798.8M442.8 919.41H798.8M442.8 1062.3H798.8" stroke="#1c1c1c" stroke-width="1.9" fill="none"/>
<path d="M424.8 1073.8H442.8M433.9 1038.08H442.8M433.9 1017.18H442.8M433.9 1002.35H442.8M433.9 990.85H442.8M433.9 981.46H442.8M433.9 973.51H442.8M433.9 966.63H442.8M433.9 960.56H442.8M424.8 955.13H442.8M433.9 919.41H442.8M433.9 898.51H442.8M433.9 883.68H442.8M433.9 872.18H442.8M433.9 862.79H442.8M433.9 854.84H442.8M433.9 847.96H442.8M433.9 841.89H442.8M424.8 836.46H442.8M433.9 800.74H442.8M433.9 779.84H442.8M433.9 765.01H442.8M433.9 753.51H442.8M433.9 744.12H442.8M433.9 736.17H442.8M433.9 729.29H442.8M433.9 723.22H442.8M424.8 717.79H442.8M442.8 1073.8V1091.8M465.05 1073.8V1082.7M487.3 1073.8V1091.8M509.55 1073.8V1082.7M531.8 1073.8V1091.8M554.05 1073.8V1082.7M576.3 1073.8V1091.8M598.55 1073.8V1082.7M620.8 1073.8V1091.8M643.05 1073.8V1082.7M665.3 1073.8V1091.8M687.55 1073.8V1082.7M709.8 1073.8V1091.8M732.05 1073.8V1082.7M754.3 1073.8V1091.8M776.55 1073.8V1082.7M798.8 1073.8V1091.8" stroke="#111" stroke-width="1.6" fill="none"/>
<path d="M442.8 716.99V1075.3" stroke="#000" stroke-width="2.8" fill="none"/>
<path d="M441.4 1073.8H799.6" stroke="#000" stroke-width="3" fill="none"/>
<path d="M444.65 833.95L446.51 839.67L531.8 1102.99L533.65 833.95L535.51 839.67L620.8 1102.99L622.65 833.95L624.51 839.67L705.91 1090.97" stroke="#1616c8" stroke-width="1.45" fill="none" stroke-linejoin="round" clip-path="url(#cp3)"/>
<path d="M444.65 811.28L446.51 813.54L448.36 818.74L531.8 1077.01L533.65 811.28L535.51 813.54L537.36 818.74L620.8 1077.01L622.65 811.28L624.51 813.54L626.36 818.74L714.32 1091.02" stroke="#d01c1c" stroke-width="1.45" fill="none" stroke-linejoin="round" clip-path="url(#cp3)"/>
<path d="M444.65 790.91L446.51 785.85L448.36 788.22L450.22 793.91L531.8 1047.41L533.65 790.91L535.51 785.85L537.36 788.22L539.22 793.91L620.8 1047.41L622.65 790.91L624.51 785.85L626.36 788.22L628.22 793.91L723.85 1091.08" stroke="#1616c8" stroke-width="1.45" fill="none" stroke-linejoin="round" clip-path="url(#cp3)"/>
<g fill="#1e1e1e"><text x="420" y="723.99" font-size="15.6" text-anchor="end">100</text><text x="420" y="842.66" font-size="15.6" text-anchor="end">10</text><text x="420" y="961.33" font-size="15.6" text-anchor="end">1</text><text x="420" y="1080" font-size="15.6" text-anchor="end">0.1</text><text x="442.8" y="1111.4" font-size="15.6" text-anchor="middle">0</text><text x="487.3" y="1111.4" font-size="15.6" text-anchor="middle">12</text><text x="531.8" y="1111.4" font-size="15.6" text-anchor="middle">24</text><text x="576.3" y="1111.4" font-size="15.6" text-anchor="middle">36</text><text x="620.8" y="1111.4" font-size="15.6" text-anchor="middle">48</text><text x="665.3" y="1111.4" font-size="15.6" text-anchor="middle">60</text><text x="709.8" y="1111.4" font-size="15.6" text-anchor="middle">72</text><text x="754.3" y="1111.4" font-size="15.6" text-anchor="middle">84</text><text x="798.8" y="1111.4" font-size="15.6" text-anchor="middle">96</text></g>
<text x="621" y="1157.1" font-size="22.4" text-anchor="middle" textLength="80.9" lengthAdjust="spacingAndGlyphs" fill="#1a1a1a">Time (h)</text>
<g fill="#1a1a1a" transform="translate(317.2 895.79) rotate(-90)"><text x="0" y="0" font-size="23.4" text-anchor="middle" textLength="172.69" lengthAdjust="spacingAndGlyphs">Luminal intestinal</text><text x="0" y="30" font-size="23.4" text-anchor="middle" textLength="160.49" lengthAdjust="spacingAndGlyphs">content (mg/kg)</text></g>
<g fill="#000" stroke="#000" stroke-width="0.45"><text x="497.7" y="644.6" font-size="25.8" textLength="205.39" lengthAdjust="spacingAndGlyphs">75,000 IU/kg/day</text><text x="534.7" y="679" font-size="25.8" textLength="135.79" lengthAdjust="spacingAndGlyphs">oral gavage</text></g>
<g fill="#000" stroke="#000" stroke-width="0.35"><text x="735.19" y="894.3" font-size="19" textLength="100.32" lengthAdjust="spacingAndGlyphs">120h_B3_5</text><text x="767.09" y="940.8" font-size="19" textLength="56.72" lengthAdjust="spacingAndGlyphs">ECOFF</text><text x="806.09" y="1057" font-size="19" textLength="47.32" lengthAdjust="spacingAndGlyphs">N100</text></g>
</g>
<g id="chart5">
<path d="M1132.8 906.13H1488.8M1132.8 915.31H1488.8M1132.8 1058.2H1488.8" stroke="#1c1c1c" stroke-width="1.9" fill="none"/>
<path d="M1114.8 1069.7H1132.8M1123.9 1033.98H1132.8M1123.9 1013.08H1132.8M1123.9 998.25H1132.8M1123.9 986.75H1132.8M1123.9 977.36H1132.8M1123.9 969.41H1132.8M1123.9 962.53H1132.8M1123.9 956.46H1132.8M1114.8 951.03H1132.8M1123.9 915.31H1132.8M1123.9 894.41H1132.8M1123.9 879.58H1132.8M1123.9 868.08H1132.8M1123.9 858.69H1132.8M1123.9 850.74H1132.8M1123.9 843.86H1132.8M1123.9 837.79H1132.8M1114.8 832.36H1132.8M1123.9 796.64H1132.8M1123.9 775.74H1132.8M1123.9 760.91H1132.8M1123.9 749.41H1132.8M1123.9 740.02H1132.8M1123.9 732.07H1132.8M1123.9 725.19H1132.8M1123.9 719.12H1132.8M1114.8 713.69H1132.8M1132.8 1069.7V1087.7M1155.05 1069.7V1078.6M1177.3 1069.7V1087.7M1199.55 1069.7V1078.6M1221.8 1069.7V1087.7M1244.05 1069.7V1078.6M1266.3 1069.7V1087.7M1288.55 1069.7V1078.6M1310.8 1069.7V1087.7M1333.05 1069.7V1078.6M1355.3 1069.7V1087.7M1377.55 1069.7V1078.6M1399.8 1069.7V1087.7M1422.05 1069.7V1078.6M1444.3 1069.7V1087.7M1466.55 1069.7V1078.6M1488.8 1069.7V1087.7" stroke="#111" stroke-width="1.6" fill="none"/>
<path d="M1132.8 712.89V1071.2" stroke="#000" stroke-width="2.8" fill="none"/>
<path d="M1131.4 1069.7H1489.6" stroke="#000" stroke-width="3" fill="none"/>
<path d="M1134.65 967.39L1135.58 943.79L1136.51 928.38L1137.44 917.1L1138.36 908.3L1139.29 901.15L1140.22 895.19L1141.14 890.12L1142.07 885.74L1143 881.9L1143.92 878.52L1144.85 875.5L1145.78 872.8L1146.71 870.37L1147.63 868.17L1148.56 866.17L1149.49 864.34L1150.41 862.67L1151.34 861.13L1152.27 859.72L1153.2 858.41L1154.12 857.21L1155.05 856.09L1221.8 1061.7L1221.8 1061.7L1223.65 961.06L1224.58 940.05L1225.51 925.85L1226.44 915.26L1227.36 906.9L1228.29 900.06L1229.22 894.33L1230.14 889.42L1231.07 885.17L1232 881.44L1232.92 878.14L1233.85 875.2L1234.78 872.55L1235.71 870.17L1236.63 868L1237.56 866.03L1238.49 864.24L1239.41 862.59L1240.34 861.07L1241.27 859.68L1242.2 858.39L1243.12 857.2L1244.05 856.09L1310.8 1061.7L1310.8 1061.7L1312.65 961.06L1313.58 940.05L1314.51 925.85L1315.44 915.26L1316.36 906.9L1317.29 900.06L1318.22 894.33L1319.14 889.42L1320.07 885.17L1321 881.44L1321.92 878.14L1322.85 875.2L1323.78 872.55L1324.71 870.17L1325.63 868L1326.56 866.03L1327.49 864.24L1328.41 862.59L1329.34 861.07L1330.27 859.68L1331.2 858.39L1332.12 857.2L1333.05 856.09L1407.96 1086.83" stroke="#1616c8" stroke-width="1.45" fill="none" stroke-linejoin="round" clip-path="url(#cp4)"/>
<path d="M1134.65 949.51L1135.58 917.06L1136.51 901.65L1137.44 890.36L1138.36 881.56L1139.29 874.42L1140.22 868.46L1141.14 863.39L1142.07 859L1143 855.17L1143.92 851.78L1144.85 848.77L1145.78 846.07L1146.71 843.64L1147.63 841.44L1148.56 839.43L1149.49 837.61L1150.41 835.93L1151.34 834.4L1152.27 832.98L1153.2 831.68L1154.12 830.47L1155.05 829.36L1221.8 1033.42L1221.8 1033.42L1223.65 934.14L1224.58 913.21L1225.51 899.04L1226.44 888.47L1227.36 880.12L1228.29 873.29L1229.22 867.56L1230.14 862.67L1231.07 858.42L1232 854.69L1232.92 851.39L1233.85 848.45L1234.78 845.81L1235.71 843.43L1236.63 841.26L1237.56 839.3L1238.49 837.5L1239.41 835.85L1240.34 834.34L1241.27 832.94L1242.2 831.65L1243.12 830.46L1244.05 829.36L1310.8 1033.42L1310.8 1033.42L1312.65 934.14L1313.58 913.21L1314.51 899.04L1315.44 888.47L1316.36 880.12L1317.29 873.29L1318.22 867.56L1319.14 862.67L1320.07 858.42L1321 854.69L1321.92 851.39L1322.85 848.45L1323.78 845.81L1324.71 843.43L1325.63 841.26L1326.56 839.3L1327.49 837.5L1328.41 835.85L1329.34 834.34L1330.27 832.94L1331.2 831.65L1332.12 830.46L1333.05 829.36L1417.23 1086.71" stroke="#d01c1c" stroke-width="1.45" fill="none" stroke-linejoin="round" clip-path="url(#cp4)"/>
<path d="M1134.65 936.72L1135.58 892.41L1136.51 877L1137.44 865.72L1138.36 856.92L1139.29 849.77L1140.22 843.81L1141.14 838.74L1142.07 834.36L1143 830.52L1143.92 827.14L1144.85 824.12L1145.78 821.42L1146.71 818.99L1147.63 816.79L1148.56 814.79L1149.49 812.96L1150.41 811.29L1151.34 809.75L1152.27 808.34L1153.2 807.03L1154.12 805.83L1155.05 804.71L1221.8 1005.97L1221.8 1005.97L1223.65 909.14L1224.58 888.34L1225.51 874.24L1226.44 863.71L1227.36 855.39L1228.29 848.58L1229.22 842.86L1230.14 837.97L1231.07 833.73L1232 830.01L1232.92 826.72L1233.85 823.78L1234.78 821.15L1235.71 818.76L1236.63 816.61L1237.56 814.64L1238.49 812.84L1239.41 811.2L1240.34 809.69L1241.27 808.29L1242.2 807L1243.12 805.81L1244.05 804.71L1310.8 1005.97L1310.8 1005.97L1312.65 909.14L1313.58 888.34L1314.51 874.24L1315.44 863.71L1316.36 855.39L1317.29 848.58L1318.22 842.86L1319.14 837.97L1320.07 833.73L1321 830.01L1321.92 826.72L1322.85 823.78L1323.78 821.15L1324.71 818.76L1325.63 816.61L1326.56 814.64L1327.49 812.84L1328.41 811.2L1329.34 809.69L1330.27 808.29L1331.2 807L1332.12 805.81L1333.05 804.71L1426.5 1086.47" stroke="#1616c8" stroke-width="1.45" fill="none" stroke-linejoin="round" clip-path="url(#cp4)"/>
<g fill="#1e1e1e"><text x="1110" y="719.89" font-size="15.6" text-anchor="end">100</text><text x="1110" y="838.56" font-size="15.6" text-anchor="end">10</text><text x="1110" y="957.23" font-size="15.6" text-anchor="end">1</text><text x="1110" y="1075.9" font-size="15.6" text-anchor="end">0.1</text><text x="1132.8" y="1107.3" font-size="15.6" text-anchor="middle">0</text><text x="1177.3" y="1107.3" font-size="15.6" text-anchor="middle">12</text><text x="1221.8" y="1107.3" font-size="15.6" text-anchor="middle">24</text><text x="1266.3" y="1107.3" font-size="15.6" text-anchor="middle">36</text><text x="1310.8" y="1107.3" font-size="15.6" text-anchor="middle">48</text><text x="1355.3" y="1107.3" font-size="15.6" text-anchor="middle">60</text><text x="1399.8" y="1107.3" font-size="15.6" text-anchor="middle">72</text><text x="1444.3" y="1107.3" font-size="15.6" text-anchor="middle">84</text><text x="1488.8" y="1107.3" font-size="15.6" text-anchor="middle">96</text></g>
<text x="1311" y="1153" font-size="22.4" text-anchor="middle" textLength="80.9" lengthAdjust="spacingAndGlyphs" fill="#1a1a1a">Time (h)</text>
<g fill="#1a1a1a" transform="translate(1007.2 891.7) rotate(-90)"><text x="0" y="0" font-size="23.4" text-anchor="middle" textLength="172.69" lengthAdjust="spacingAndGlyphs">Luminal intestinal</text><text x="0" y="30" font-size="23.4" text-anchor="middle" textLength="160.49" lengthAdjust="spacingAndGlyphs">content (mg/kg)</text></g>
<g fill="#000" stroke="#000" stroke-width="0.45"><text x="1190.2" y="645.6" font-size="25.8" textLength="205.49" lengthAdjust="spacingAndGlyphs">75,000 IU/kg/day</text><text x="1213.2" y="680" font-size="25.8" textLength="163.89" lengthAdjust="spacingAndGlyphs">6h pulse-dose</text></g>
<g fill="#000" stroke="#000" stroke-width="0.35"><text x="1426.59" y="894.3" font-size="19" textLength="100.31" lengthAdjust="spacingAndGlyphs">120h_B3_5</text><text x="1458.69" y="940.8" font-size="19" textLength="56.91" lengthAdjust="spacingAndGlyphs">ECOFF</text><text x="1497.59" y="1057" font-size="19" textLength="47.41" lengthAdjust="spacingAndGlyphs">N100</text></g>
</g>
<g>
<path d="M1909.6 186.4H1957M1909.6 271.9H1957" stroke="#7d7de8" stroke-width="4" fill="none"/>
<path d="M1909.6 232.1H1957" stroke="#e47884" stroke-width="1.6" fill="none"/>
<text x="1979.14" y="191" font-size="27.3" textLength="49.92" lengthAdjust="spacingAndGlyphs" fill="#000" stroke="#000" stroke-width="0.45">10%</text>
<text x="1979.14" y="236.2" font-size="27.3" textLength="49.92" lengthAdjust="spacingAndGlyphs" fill="#000" stroke="#000" stroke-width="0.45">50%</text>
<text x="1979.14" y="280.6" font-size="27.3" textLength="49.92" lengthAdjust="spacingAndGlyphs" fill="#000" stroke="#000" stroke-width="0.45">90%</text>
</g>
<g>
<path d="M1658.2 806.9H1705.5M1658.2 892.1H1705.5" stroke="#7d7de8" stroke-width="4" fill="none"/>
<path d="M1658.2 852.3H1705.5" stroke="#e47884" stroke-width="1.6" fill="none"/>
<text x="1727.84" y="811.3" font-size="27.3" textLength="49.92" lengthAdjust="spacingAndGlyphs" fill="#000" stroke="#000" stroke-width="0.45">10%</text>
<text x="1727.84" y="856.4" font-size="27.3" textLength="49.92" lengthAdjust="spacingAndGlyphs" fill="#000" stroke="#000" stroke-width="0.45">50%</text>
<text x="1727.84" y="900.8" font-size="27.3" textLength="49.92" lengthAdjust="spacingAndGlyphs" fill="#000" stroke="#000" stroke-width="0.45">90%</text>
</g>
</svg>
</body></html>
